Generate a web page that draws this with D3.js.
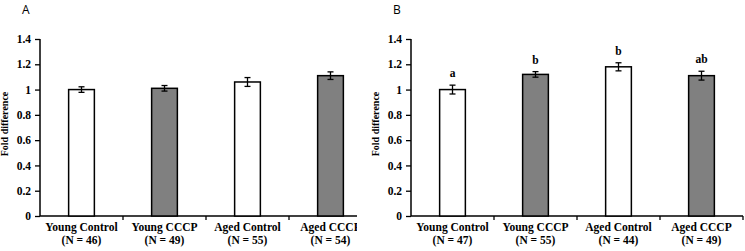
<!DOCTYPE html>
<html>
<head>
<meta charset="utf-8">
<script src="https://cdn.jsdelivr.net/npm/d3@7"></script>
<style>
  body { margin: 0; background: #fff; }
  svg text { font-family: "Liberation Serif", "Times New Roman", serif; font-weight: bold; }
</style>
</head>
<body>
<svg id="chart" width="745" height="251"></svg>
<script>
// data
const groups = ["Young Control", "Young CCCP", "Aged Control", "Aged CCCP"]
const fills = ["#ffffff", "#808080", "#ffffff", "#808080"]

const countsA = [46, 49, 55, 54]
const valuesA = [1.0, 1.01, 1.06, 1.11]
const errorsA = [0.022, 0.022, 0.035, 0.03]

const countsB = [47, 55, 44, 49]
const valuesB = [1.0, 1.12, 1.18, 1.11]
const errorsB = [0.035, 0.022, 0.032, 0.035]
const lettersB = ["a", "b", "b", "ab"]

const yTicks = [0, 0.2, 0.4, 0.6, 0.8, 1, 1.2, 1.4]

const svg = d3.select("#chart")

// clip for panel A (right edge is cut off in the original)
svg.append("defs").append("clipPath").attr("id", "clipA")
   .append("rect").attr("x", 0).attr("y", 0).attr("width", 357).attr("height", 251)

function drawPanel(opts) {
  const g = svg.append("g")
  if (opts.clip) g.attr("clip-path", "url(#clipA)")

  const x = d3.scaleBand()
              .domain(groups)
              .range([opts.left, opts.left + 332])
              .paddingInner(0.69)
              .paddingOuter(0.345)

  const y = d3.scaleLinear()
              .domain([0, 1.4])
              .range([216, 39])

  // panel letter
  g.append("text")
   .attr("x", opts.labelX).attr("y", 14)
   .style("font-family", "'Open Sans', 'Liberation Sans', sans-serif")
   .style("font-weight", "normal")
   .style("font-size", "12px")
   .text(opts.label)

  // y axis
  const yAxis = g.append("g")
                 .attr("transform", "translate(" + opts.left + ",0)")
                 .call(d3.axisLeft(y).tickValues(yTicks).tickSize(5).tickPadding(4)
                         .tickFormat(d => String(+d.toFixed(1))))
  yAxis.select(".domain").attr("stroke-width", 1.5).attr("d", "M0,39V216")
  yAxis.selectAll(".tick line").attr("stroke-width", 1.3)
  yAxis.selectAll("text").style("font-size", "11.5px").attr("fill", "#000")

  // y label
  g.append("text")
   .attr("transform", "translate(" + (opts.left - 32) + ",124) rotate(-90)")
   .attr("text-anchor", "middle")
   .style("font-size", "10px")
   .text("Fold difference")

  // x axis baseline with ticks between categories
  const xAxis = g.append("g").attr("transform", "translate(0,216)")
  xAxis.append("line")
       .attr("x1", opts.left).attr("x2", opts.left + 332)
       .attr("stroke", "#000").attr("stroke-width", 1.5)
  const gap = (x.step() - x.bandwidth()) / 2
  xAxis.selectAll("line.sep")
       .data(groups.slice(1))
       .enter().append("line")
       .attr("class", "sep")
       .attr("x1", d => x(d) - gap)
       .attr("x2", d => x(d) - gap)
       .attr("y1", 0).attr("y2", 4)
       .attr("stroke", "#000").attr("stroke-width", 1.3)
  xAxis.append("line")
       .attr("x1", opts.left + 332).attr("x2", opts.left + 332)
       .attr("y1", 0).attr("y2", 4)
       .attr("stroke", "#000").attr("stroke-width", 1.3)

  // category labels
  const cat = g.selectAll("text.cat")
               .data(groups)
               .enter().append("text")
               .attr("class", "cat")
               .attr("text-anchor", "middle")
               .style("font-size", "11.5px")
               .attr("x", d => x(d) + x.bandwidth() / 2)
               .attr("y", 231)
  cat.append("tspan").text(d => d)
  cat.append("tspan")
     .attr("x", d => x(d) + x.bandwidth() / 2)
     .attr("dy", 13)
     .text((d, i) => "(N = " + opts.counts[i] + ")")

  // bars
  g.selectAll("rect.bar")
   .data(opts.values)
   .enter().append("rect")
   .attr("class", "bar")
   .attr("x", (d, i) => x(groups[i]))
   .attr("width", x.bandwidth())
   .attr("y", d => y(d))
   .attr("height", d => y(0) - y(d))
   .attr("fill", (d, i) => fills[i])
   .attr("stroke", "#000")
   .attr("stroke-width", 1.5)

  // error bars
  const err = g.selectAll("g.err")
               .data(opts.values)
               .enter().append("g")
               .attr("class", "err")
               .attr("transform", (d, i) => "translate(" + (x(groups[i]) + x.bandwidth() / 2) + ",0)")
  err.append("line")
     .attr("y1", (d, i) => y(d + opts.errors[i]))
     .attr("y2", (d, i) => y(d - opts.errors[i]))
     .attr("stroke", "#000").attr("stroke-width", 1.3)
  err.append("line")
     .attr("x1", -3).attr("x2", 3)
     .attr("y1", (d, i) => y(d + opts.errors[i]))
     .attr("y2", (d, i) => y(d + opts.errors[i]))
     .attr("stroke", "#000").attr("stroke-width", 1.3)
  err.append("line")
     .attr("x1", -3).attr("x2", 3)
     .attr("y1", (d, i) => y(d - opts.errors[i]))
     .attr("y2", (d, i) => y(d - opts.errors[i]))
     .attr("stroke", "#000").attr("stroke-width", 1.3)

  // significance letters
  if (opts.letters) {
    g.selectAll("text.sig")
     .data(opts.letters)
     .enter().append("text")
     .attr("class", "sig")
     .attr("text-anchor", "middle")
     .style("font-size", "11.5px")
     .attr("x", (d, i) => x(groups[i]) + x.bandwidth() / 2)
     .attr("y", (d, i) => y(opts.values[i] + opts.errors[i]) - 8)
     .text(d => d)
  }
}

drawPanel({ left: 40, label: "A", labelX: 22, counts: countsA, values: valuesA, errors: errorsA, clip: true })
drawPanel({ left: 411, label: "B", labelX: 393, counts: countsB, values: valuesB, errors: errorsB, letters: lettersB })
</script>
</body>
</html>
